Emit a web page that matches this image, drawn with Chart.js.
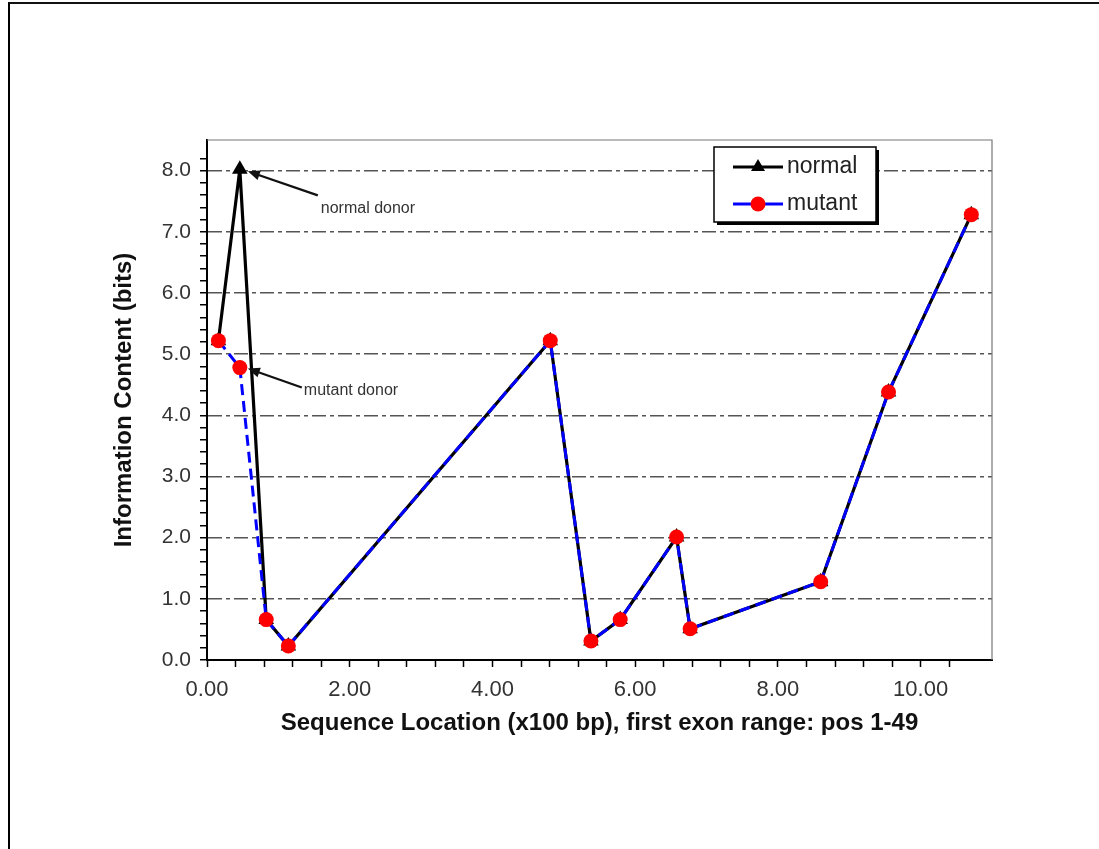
<!DOCTYPE html>
<html>
<head>
<meta charset="utf-8">
<script src="https://cdn.jsdelivr.net/npm/chart.js@4.4.1/dist/chart.umd.min.js"></script>
<style>
  html, body { margin: 0; padding: 0; background: #fff; }
  #wrap { position: relative; width: 1099px; height: 849px; overflow: hidden; }
  #frame { position: absolute; left: 8px; top: 2px; right: -10px; bottom: -10px;
           border-top: 2px solid #111; border-left: 2px solid #000; }
  canvas { position: absolute; left: 0; top: 0; }
</style>
</head>
<body>
<div id="wrap">
  <div id="frame"></div>
  <canvas id="c" width="1099" height="849"></canvas>
</div>
<script>
// sequence location (x100 bp)
const locations = [0.16, 0.46, 0.83, 1.14, 4.81, 5.38, 5.79, 6.58, 6.77, 8.60, 9.55, 10.71];
// information content (bits)
const normalBits = [5.22, 8.02, 0.66, 0.23, 5.22, 0.31, 0.66, 2.01, 0.51, 1.28, 4.38, 7.28];
const mutantBits = [5.22, 4.78, 0.66, 0.23, 5.22, 0.31, 0.66, 2.01, 0.51, 1.28, 4.38, 7.28];

const xLabelEvery = 2;
const yLabelEvery = 1;

const FONT = 'Arial, "Liberation Sans", sans-serif';

const isMultiple = (v, step) => Math.abs(v / step - Math.round(v / step)) < 1e-6;

// top/right frame of the plot, annotations and the boxed legend
const decorations = {
  id: 'decorations',
  beforeDatasetsDraw(chart) {
    const { ctx, chartArea: a } = chart;
    ctx.save();
    ctx.strokeStyle = '#777';
    ctx.lineWidth = 1.2;
    ctx.beginPath();
    ctx.moveTo(a.left, a.top);
    ctx.lineTo(a.right, a.top);
    ctx.lineTo(a.right, a.bottom);
    ctx.stroke();
    ctx.restore();
  },
  afterDraw(chart) {
    const { ctx, scales: { x, y } } = chart;

    const arrow = (x1, y1, x2, y2) => {
      const ang = Math.atan2(y2 - y1, x2 - x1);
      ctx.beginPath();
      ctx.moveTo(x1, y1);
      ctx.lineTo(x2 - 6 * Math.cos(ang), y2 - 6 * Math.sin(ang));
      ctx.stroke();
      ctx.beginPath();
      ctx.moveTo(x2, y2);
      ctx.lineTo(x2 - 12 * Math.cos(ang) + 5 * Math.sin(ang), y2 - 12 * Math.sin(ang) - 5 * Math.cos(ang));
      ctx.lineTo(x2 - 12 * Math.cos(ang) - 5 * Math.sin(ang), y2 - 12 * Math.sin(ang) + 5 * Math.cos(ang));
      ctx.closePath();
      ctx.fill();
    };

    ctx.save();
    ctx.strokeStyle = '#111';
    ctx.fillStyle = '#111';
    ctx.lineWidth = 2.2;

    const px = x.getPixelForValue(locations[1]);
    const pyN = y.getPixelForValue(normalBits[1]);
    const pyM = y.getPixelForValue(mutantBits[1]);
    arrow(px + 78, pyN + 26, px + 8, pyN + 2);
    arrow(px + 62, pyM + 20, px + 8, pyM + 1);

    ctx.fillStyle = '#333';
    ctx.font = '16px ' + FONT;
    ctx.textBaseline = 'middle';
    ctx.textAlign = 'left';
    ctx.fillText('normal donor', px + 81, pyN + 39);
    ctx.fillText('mutant donor', px + 64, pyM + 23);

    // legend
    const L = 714, T = 147, W = 162, H = 75;
    ctx.fillStyle = '#000';
    ctx.fillRect(L + 3, T + 3, W, H);
    ctx.fillStyle = '#fff';
    ctx.fillRect(L, T, W, H);
    ctx.strokeStyle = '#000';
    ctx.lineWidth = 1.5;
    ctx.strokeRect(L, T, W, H);

    const rows = [
      { label: 'normal', line: '#000', y: T + 20 },
      { label: 'mutant', line: '#0000ff', y: T + 57 }
    ];
    rows.forEach((r, i) => {
      ctx.strokeStyle = r.line;
      ctx.lineWidth = 3;
      ctx.beginPath();
      ctx.moveTo(L + 19, r.y);
      ctx.lineTo(L + 69, r.y);
      ctx.stroke();
      const cx = L + 44;
      if (i === 0) {
        ctx.fillStyle = '#000';
        ctx.beginPath();
        ctx.moveTo(cx, r.y - 8);
        ctx.lineTo(cx + 7, r.y + 4);
        ctx.lineTo(cx - 7, r.y + 4);
        ctx.closePath();
        ctx.fill();
      } else {
        ctx.fillStyle = '#ff0000';
        ctx.beginPath();
        ctx.arc(cx, r.y, 7.5, 0, Math.PI * 2);
        ctx.fill();
      }
      ctx.fillStyle = '#222';
      ctx.font = '23px ' + FONT;
      ctx.fillText(r.label, L + 73, r.y);
    });
    ctx.restore();
  }
};

new Chart(document.getElementById('c'), {
  type: 'line',
  data: {
    datasets: [
      {
        label: 'normal',
        data: locations.map((v, i) => ({ x: v, y: normalBits[i] })),
        borderColor: '#000',
        backgroundColor: '#000',
        borderWidth: 3.2,
        pointStyle: 'triangle',
        pointRadius: 9,
        pointBorderWidth: 0,
        order: 1
      },
      {
        label: 'mutant',
        data: locations.map((v, i) => ({ x: v, y: mutantBits[i] })),
        borderColor: '#0000ff',
        backgroundColor: '#ff0000',
        borderWidth: 3,
        borderDash: [11, 6],
        pointStyle: 'circle',
        pointRadius: 7.5,
        pointBorderWidth: 0,
        order: 0
      }
    ]
  },
  options: {
    responsive: false,
    animation: false,
    events: [],
    layout: { padding: { left: 97, right: 107, top: 140, bottom: 99 } },
    plugins: {
      legend: { display: false },
      tooltip: { enabled: false }
    },
    elements: { line: { tension: 0 } },
    scales: {
      x: {
        type: 'linear',
        min: 0,
        max: 11,
        afterFit: (s) => { s.height = 90; },
        border: { display: true, color: '#000', width: 2 },
        grid: {
          drawOnChartArea: false,
          drawTicks: true,
          tickLength: 7,
          tickWidth: 1.5,
          tickColor: (c) => (c.tick && c.tick.value > 10.95 ? 'rgba(0,0,0,0)' : '#000')
        },
        ticks: {
          stepSize: 0.4,
          autoSkip: false,
          maxRotation: 0,
          minRotation: 0,
          padding: 10,
          color: '#333',
          font: { family: FONT, size: 22 },
          callback: (v) => (isMultiple(v, xLabelEvery) && v < 10.95 ? v.toFixed(2) : '')
        },
        title: {
          display: true,
          text: 'Sequence Location (x100 bp), first exon range: pos 1-49',
          color: '#111',
          font: { family: FONT, size: 24, weight: 'bold' },
          padding: { top: 0, bottom: 12 }
        }
      },
      y: {
        min: 0,
        max: 8.5,
        afterFit: (s) => { s.width = 110; },
        border: { display: true, color: '#000', width: 2, dash: [14, 4, 4, 4] },
        grid: {
          drawOnChartArea: true,
          drawTicks: true,
          tickLength: 7,
          tickWidth: 1.5,
          lineWidth: 1.5,
          tickBorderDash: [],
          color: (c) => (c.tick && isMultiple(c.tick.value, yLabelEvery) && c.tick.value > 0.5 ? '#555' : 'rgba(0,0,0,0)'),
          tickColor: (c) => (c.tick && c.tick.value > 8.45 ? 'rgba(0,0,0,0)' : '#000')
        },
        ticks: {
          stepSize: 0.2,
          autoSkip: false,
          padding: 9,
          color: '#333',
          font: { family: FONT, size: 21 },
          callback: (v) => (isMultiple(v, yLabelEvery) ? v.toFixed(1) : '')
        },
        title: {
          display: true,
          text: 'Information Content (bits)',
          color: '#111',
          font: { family: FONT, size: 24, weight: 'bold' },
          padding: { top: 13, bottom: 0 }
        }
      }
    }
  },
  plugins: [decorations]
});
</script>
</body>
</html>
